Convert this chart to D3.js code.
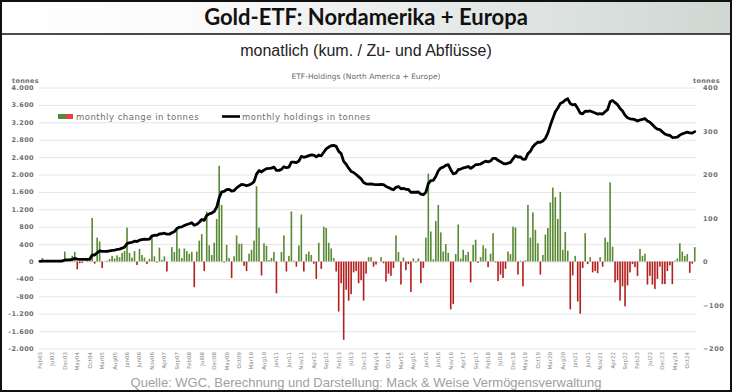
<!DOCTYPE html>
<html>
<head>
<meta charset="utf-8">
<script src="https://cdn.jsdelivr.net/npm/d3@7"></script>
<style>
  html, body { margin: 0; padding: 0; background: #fff; }
  svg { display: block; }
</style>
</head>
<body>
<div id="chart"></div>
<script>
// monthly change in tonnes (right axis), Feb 2003 .. Jan 2025
const chg2003 = [0, 8, 0, 0, 0, 0, 0, 0, 0, 1, 23];
const chg2004 = [2, 1, 13, 22, -18, -4, -3, 0, 2, 2, 100, -5];
const chg2005 = [55, 46, -15, 1, 2, 6, 13, 7, 14, 10, 20, 24];
const chg2006 = [78, 20, 9, 24, -8, 29, 15, 9, -6, 6, 58, 12];
const chg2007 = [-2, 32, 4, 12, -23, 0, 33, 22, 73, 30, 8, 30];
const chg2008 = [24, 18, 22, -59, 23, 48, 63, -22, 115, 37, 15, 43];
const chg2009 = [98, 220, 130, -2, 38, 8, -38, 12, 60, 41, 41, -10];
const chg2010 = [-22, 18, 27, 48, 173, 78, -32, 42, 36, 3, 8, 22];
const chg2011 = [-73, 0, 22, 60, -23, 13, 115, 2, -12, 37, 108, -23];
const chg2012 = [17, 23, 15, -5, -40, 43, -17, 80, 77, 43, 30, 8];
const chg2013 = [-23, -115, -50, -180, -65, -90, -75, -25, -22, -50, -43, -90];
const chg2014 = [-28, 10, 10, -12, -7, 0, 10, -4, -46, -28, -33, -15];
const chg2015 = [60, 22, -53, 9, -20, -6, -70, 7, -2, 7, -50, -15];
const chg2016 = [55, 202, 69, 5, 93, 130, 67, 23, 40, 20, -110, -98];
const chg2017 = [17, 85, 7, 27, 15, 22, -48, 38, 50, -3, 10, 37];
const chg2018 = [30, -13, 18, 65, -2, -45, -30, -38, -17, 23, 17, 80];
const chg2019 = [78, -30, 2, -57, 3, 130, 55, 113, 73, 42, -30, 15];
const chg2020 = [62, 77, 136, 170, 148, 98, 160, 27, 68, 25, -110, -32];
const chg2021 = [13, -92, -120, -15, 65, -6, 10, -25, -22, -27, 10, -12];
const chg2022 = [55, 45, 182, 34, -48, -43, -90, -57, -103, -55, -25, -6];
const chg2023 = [-13, -33, 29, 13, 18, -53, -33, -53, -63, -40, -12, -52];
const chg2024 = [-52, -22, -9, -52, 2, 7, 42, 23, 13, 17, -26, -5];
const chg2025 = [33];

// monthly holdings in tonnes (left axis)
const hold2003 = [5, 8, 10, 10, 10, 10, 10, 10, 10, 12, 35];
const hold2004 = [37, 38, 50, 72, 55, 50, 48, 48, 50, 52, 150, 148];
const hold2005 = [200, 245, 232, 234, 236, 242, 255, 262, 276, 286, 306, 330];
const hold2006 = [410, 432, 442, 466, 460, 490, 505, 515, 510, 516, 590, 603];
const hold2007 = [601, 634, 638, 650, 628, 628, 662, 685, 758, 788, 796, 826];
const hold2008 = [850, 868, 890, 832, 855, 902, 965, 945, 1058, 1095, 1110, 1150];
const hold2009 = [1245, 1465, 1600, 1610, 1650, 1658, 1620, 1632, 1692, 1733, 1774, 1764];
const hold2010 = [1742, 1760, 1787, 1835, 2010, 2090, 2058, 2100, 2136, 2139, 2147, 2169];
const hold2011 = [2096, 2096, 2118, 2178, 2155, 2168, 2283, 2285, 2273, 2310, 2418, 2395];
const hold2012 = [2412, 2435, 2450, 2445, 2405, 2448, 2431, 2511, 2588, 2631, 2661, 2669];
const hold2013 = [2646, 2531, 2481, 2301, 2236, 2146, 2071, 2046, 2000, 1950, 1900, 1815];
const hold2014 = [1785, 1780, 1785, 1772, 1765, 1765, 1772, 1768, 1725, 1700, 1670, 1650];
const hold2015 = [1705, 1725, 1672, 1680, 1660, 1655, 1590, 1595, 1592, 1598, 1550, 1535];
const hold2016 = [1590, 1790, 1860, 1865, 1955, 2085, 2150, 2170, 2208, 2225, 2110, 2015];
const hold2017 = [2030, 2110, 2125, 2150, 2165, 2185, 2140, 2178, 2225, 2230, 2240, 2275];
const hold2018 = [2305, 2292, 2310, 2372, 2370, 2325, 2295, 2258, 2242, 2262, 2280, 2358];
const hold2019 = [2432, 2402, 2404, 2348, 2352, 2480, 2535, 2640, 2700, 2745, 2740, 2770];
const hold2020 = [2830, 2950, 3130, 3290, 3440, 3530, 3630, 3660, 3710, 3740, 3630, 3600];
const hold2021 = [3610, 3520, 3410, 3395, 3455, 3450, 3460, 3438, 3415, 3390, 3400, 3390];
const hold2022 = [3445, 3490, 3670, 3700, 3650, 3605, 3515, 3460, 3360, 3305, 3280, 3272];
const hold2023 = [3260, 3228, 3255, 3268, 3285, 3232, 3200, 3147, 3085, 3045, 3033, 2980];
const hold2024 = [2930, 2908, 2900, 2850, 2852, 2858, 2905, 2935, 2955, 2975, 2955, 2950];
const hold2025 = [2985];

// x axis labels (every 5th month)
const tickLabels = ["Feb03", "Jul03", "Dec03", "May04", "Oct04", "Mar05", "Aug05", "Jan06",
  "Jun06", "Nov06", "Apr07", "Sep07", "Feb08", "Jul08", "Dec08", "May09", "Oct09", "Mar10",
  "Aug10", "Jan11", "Jun11", "Nov11", "Apr12", "Sep12", "Feb13", "Jul13", "Dec13", "May14",
  "Oct14", "Mar15", "Aug15", "Jan16", "Jun16", "Nov16", "Apr17", "Sep17", "Feb18", "Jul18",
  "Dec18", "May19", "Oct19", "Mar20", "Aug20", "Jan21", "Jun21", "Nov21", "Apr22", "Sep22",
  "Feb23", "Jul23", "Dec23", "May24", "Oct24"];
const leftTicks = [-2000, -1600, -1200, -800, -400, 0, 400, 800, 1200, 1600, 2000, 2400, 2800, 3200, 3600, 4000];
const rightTicks = [-200, -100, 0, 100, 200, 300, 400];

const changes = [].concat(chg2003, chg2004, chg2005, chg2006, chg2007, chg2008, chg2009,
  chg2010, chg2011, chg2012, chg2013, chg2014, chg2015, chg2016, chg2017, chg2018, chg2019,
  chg2020, chg2021, chg2022, chg2023, chg2024, chg2025);
const holdings = [].concat(hold2003, hold2004, hold2005, hold2006, hold2007, hold2008, hold2009,
  hold2010, hold2011, hold2012, hold2013, hold2014, hold2015, hold2016, hold2017, hold2018, hold2019,
  hold2020, hold2021, hold2022, hold2023, hold2024, hold2025);

const fmtMonth = d3.timeFormat("%b%y");
const months = d3.timeMonth.range(new Date(2003, 1, 1), new Date(2025, 1, 1)).map(fmtMonth);
const data = months.map((m, i) => ({ m, chg: changes[i], hold: holdings[i] }));

const width = 732, height = 392;
const svg = d3.select("#chart").append("svg")
  .attr("width", width).attr("height", height)
  .attr("viewBox", `0 0 ${width} ${height}`);

// header gradient
const grad = svg.append("defs").append("linearGradient").attr("id", "hdr");
grad.append("stop").attr("offset", "0%").attr("stop-color", "#ffffff");
grad.append("stop").attr("offset", "25%").attr("stop-color", "#fbfbfb");
grad.append("stop").attr("offset", "100%").attr("stop-color", "#cfd7d3");

svg.append("rect").attr("x", 1).attr("y", 1).attr("width", width - 2).attr("height", 33)
  .attr("fill", "url(#hdr)");
svg.append("line").attr("x1", 1).attr("x2", width - 1).attr("y1", 34).attr("y2", 34)
  .attr("stroke", "#111").attr("stroke-width", 1.5);
svg.append("rect").attr("x", 1).attr("y", 1).attr("width", width - 2).attr("height", height - 2)
  .attr("fill", "none").attr("stroke", "#111").attr("stroke-width", 2);

svg.append("text").attr("x", 366).attr("y", 25)
  .attr("text-anchor", "middle").attr("font-family", "Lato, sans-serif")
  .attr("font-weight", 700).attr("font-size", 22).attr("fill", "#111")
  .text("Gold-ETF: Nordamerika + Europa");

svg.append("text").attr("x", 366).attr("y", 56)
  .attr("text-anchor", "middle").attr("font-family", "'Liberation Sans', Arial, sans-serif")
  .attr("font-size", 16).attr("fill", "#222")
  .text("monatlich (kum. / Zu- und Abflüsse)");

svg.append("text").attr("x", 366).attr("y", 79)
  .attr("text-anchor", "middle").attr("font-family", "'DejaVu Sans', sans-serif")
  .attr("font-size", 7.5).attr("fill", "#6b6b6b")
  .text("ETF-Holdings (North America + Europe)");

svg.append("text").attr("x", 366).attr("y", 387)
  .attr("text-anchor", "middle").attr("font-family", "'Liberation Sans', Arial, sans-serif")
  .attr("font-size", 13).attr("fill", "#a0a0a0")
  .text("Quelle: WGC, Berechnung und Darstellung: Mack & Weise Vermögensverwaltung");

// scales
const x = d3.scaleBand().domain(months).range([38.65, 696]).paddingInner(0.35).paddingOuter(0.175);
const yL = d3.scaleLinear().domain([-2000, 4000]).range([348.5, 87.5]);
const yR = d3.scaleLinear().domain([-200, 400]).range([348.5, 87.5]);

const de = d3.formatLocale({ decimal: ",", thousands: ".", grouping: [3], currency: ["", " €"], minus: "-" });

// grid
svg.append("g").selectAll("line").data(leftTicks).join("line")
  .attr("x1", 38.65).attr("x2", 696)
  .attr("y1", d => yL(d) + 0.5).attr("y2", d => yL(d) + 0.5)
  .attr("stroke", "#e6e6e6").attr("stroke-width", 1);

const tickFont = "'DejaVu Sans', sans-serif";

// left axis
const gL = svg.append("g").attr("transform", "translate(34,0)")
  .call(d3.axisLeft(yL).tickValues(leftTicks).tickFormat(de.format(",")).tickSize(0).tickPadding(0));
gL.select(".domain").remove();
gL.selectAll("text").attr("font-family", tickFont).attr("font-size", 6.5)
  .attr("font-weight", 700).attr("fill", "#6e6e6e").attr("letter-spacing", 0.4);

// right axis
const gR = svg.append("g").attr("transform", "translate(703,0)")
  .call(d3.axisRight(yR).tickValues(rightTicks).tickSize(0).tickPadding(0));
gR.select(".domain").remove();
gR.selectAll("text").attr("font-family", tickFont).attr("font-size", 6.5)
  .attr("font-weight", 700).attr("fill", "#6e6e6e").attr("letter-spacing", 0.6);

svg.append("text").attr("x", 12).attr("y", 83).attr("font-family", tickFont)
  .attr("font-size", 6.5).attr("font-weight", 700).attr("fill", "#6e6e6e").attr("letter-spacing", 0.3)
  .text("tonnes");
svg.append("text").attr("x", 693).attr("y", 83).attr("font-family", tickFont)
  .attr("font-size", 6.5).attr("font-weight", 700).attr("fill", "#6e6e6e").attr("letter-spacing", 0.3)
  .text("tonnes");

// bottom axis
const gX = svg.append("g").attr("transform", "translate(0,351)")
  .call(d3.axisBottom(x).tickValues(tickLabels).tickSize(0).tickPadding(0));
gX.select(".domain").remove();
gX.selectAll("text")
  .attr("font-family", tickFont).attr("font-size", 5.5).attr("fill", "#888")
  .attr("text-anchor", "end").attr("transform", "rotate(-90)")
  .attr("x", -1).attr("y", 0).attr("dy", "0.35em");

// bars
svg.append("g").selectAll("rect").data(data).join("rect")
  .attr("x", d => x(d.m))
  .attr("width", x.bandwidth())
  .attr("y", d => yR(Math.max(0, d.chg)))
  .attr("height", d => Math.abs(yR(d.chg) - yR(0)))
  .attr("fill", d => d.chg >= 0 ? "#5a8a36" : "#b3201f");

// holdings line
const line = d3.line().x(d => x(d.m) + x.bandwidth() / 2).y(d => yL(d.hold)).curve(d3.curveLinear);
svg.append("path").datum(data).attr("d", line)
  .attr("fill", "none").attr("stroke", "#000").attr("stroke-width", 2.8)
  .attr("stroke-linejoin", "round").attr("stroke-linecap", "round");

// legend
const lg = svg.append("g");
lg.append("rect").attr("x", 58).attr("y", 114).attr("width", 8).attr("height", 5).attr("fill", "#4f8a3a");
lg.append("rect").attr("x", 66).attr("y", 114).attr("width", 7).attr("height", 5).attr("fill", "#e0443c");
lg.append("text").attr("x", 76).attr("y", 119.5).attr("font-family", tickFont)
  .attr("font-size", 8.5).attr("fill", "#6e6e6e").attr("letter-spacing", 0.5)
  .text("monthly change in tonnes");
lg.append("line").attr("x1", 222).attr("x2", 240).attr("y1", 116.5).attr("y2", 116.5)
  .attr("stroke", "#000").attr("stroke-width", 2.6);
lg.append("text").attr("x", 242).attr("y", 119.5).attr("font-family", tickFont)
  .attr("font-size", 8.5).attr("fill", "#6e6e6e").attr("letter-spacing", 0.5)
  .text("monthly holdings in tonnes");
</script>
</body>
</html>
